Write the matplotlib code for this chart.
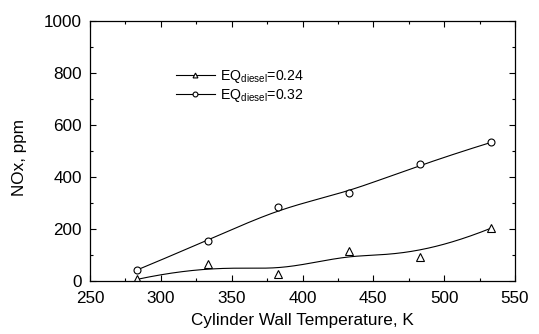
import numpy as np
import matplotlib
matplotlib.use("Agg")
import matplotlib.pyplot as plt
from matplotlib.ticker import MultipleLocator

plt.rcParams['font.family'] = ['Liberation Sans', 'DejaVu Sans']
plt.rcParams['mathtext.fontset'] = 'custom'
plt.rcParams['mathtext.rm'] = 'Liberation Sans'
plt.rcParams['mathtext.it'] = 'Liberation Sans'

# Datos
temp = [283, 333, 383, 433, 483, 533]
nox_024 = [6, 64, 26, 115, 94, 203]
nox_032 = [42, 155, 285, 337, 449, 533]


# B-spline cubico con los puntos como puntos de control (como Origin)
def bspline(px, py, n=300):
    px = np.asarray(px, float)
    py = np.asarray(py, float)
    k = 3
    m = len(px)
    nint = m - k
    knots = np.concatenate([np.zeros(k), np.arange(nint + 1), np.full(k, nint)]).astype(float)
    t = np.linspace(0, nint, n)
    t[-1] -= 1e-9

    def basis(i, d, t):
        if d == 0:
            return np.where((knots[i] <= t) & (t < knots[i + 1]), 1.0, 0.0)
        a = 0.0
        b = 0.0
        if knots[i + d] != knots[i]:
            a = (t - knots[i]) / (knots[i + d] - knots[i]) * basis(i, d - 1, t)
        if knots[i + d + 1] != knots[i + 1]:
            b = (knots[i + d + 1] - t) / (knots[i + d + 1] - knots[i + 1]) * basis(i + 1, d - 1, t)
        return a + b

    B = np.array([basis(i, k, t) for i in range(m)])
    return B.T @ px, B.T @ py


fig = plt.figure(figsize=(5.39, 3.34), dpi=100)
ax = fig.add_axes([0.167, 0.1587, 0.7885, 0.7783])

for y, mk, ms, lab in [(nox_024, '^', 5.5, r'EQ$_{\rm diesel}$=0.24'),
                       (nox_032, 'o', 5, r'EQ$_{\rm diesel}$=0.32')]:
    sx, sy = bspline(temp, y)
    ax.plot(sx, sy, color='black', lw=0.8)
    ax.plot(temp, y, ls='none', marker=mk, ms=ms, mfc='white', mec='black', mew=0.8)
    ax.plot([], [], color='black', lw=0.8, marker=mk, ms=3.5, mfc='white',
            mec='black', mew=0.8, label=lab)

ax.set_xlim(250, 550)
ax.set_ylim(0, 1000)
ax.xaxis.set_major_locator(MultipleLocator(50))
ax.xaxis.set_minor_locator(MultipleLocator(25))
ax.yaxis.set_major_locator(MultipleLocator(200))
ax.yaxis.set_minor_locator(MultipleLocator(100))
ax.tick_params(which='both', direction='in', top=True, right=True,
               labelsize=12.3, width=0.8)
ax.tick_params(axis='x', pad=7)
ax.tick_params(axis='y', pad=6)
ax.tick_params(which='major', length=4)
ax.tick_params(which='minor', length=2.5)
for s in ax.spines.values():
    s.set_linewidth(0.9)

ax.set_xlabel('Cylinder Wall Temperature, K', fontsize=12.3, labelpad=5)
ax.set_ylabel('NOx, ppm', fontsize=12.3)
ax.yaxis.set_label_coords(-0.148, 0.475)

ax.legend(loc='upper left', bbox_to_anchor=(0.188, 0.842), frameon=False,
          fontsize=10.2, handlelength=2.8, handletextpad=0.35,
          labelspacing=0.15, borderaxespad=0)

fig.savefig('out.png', dpi=100)
